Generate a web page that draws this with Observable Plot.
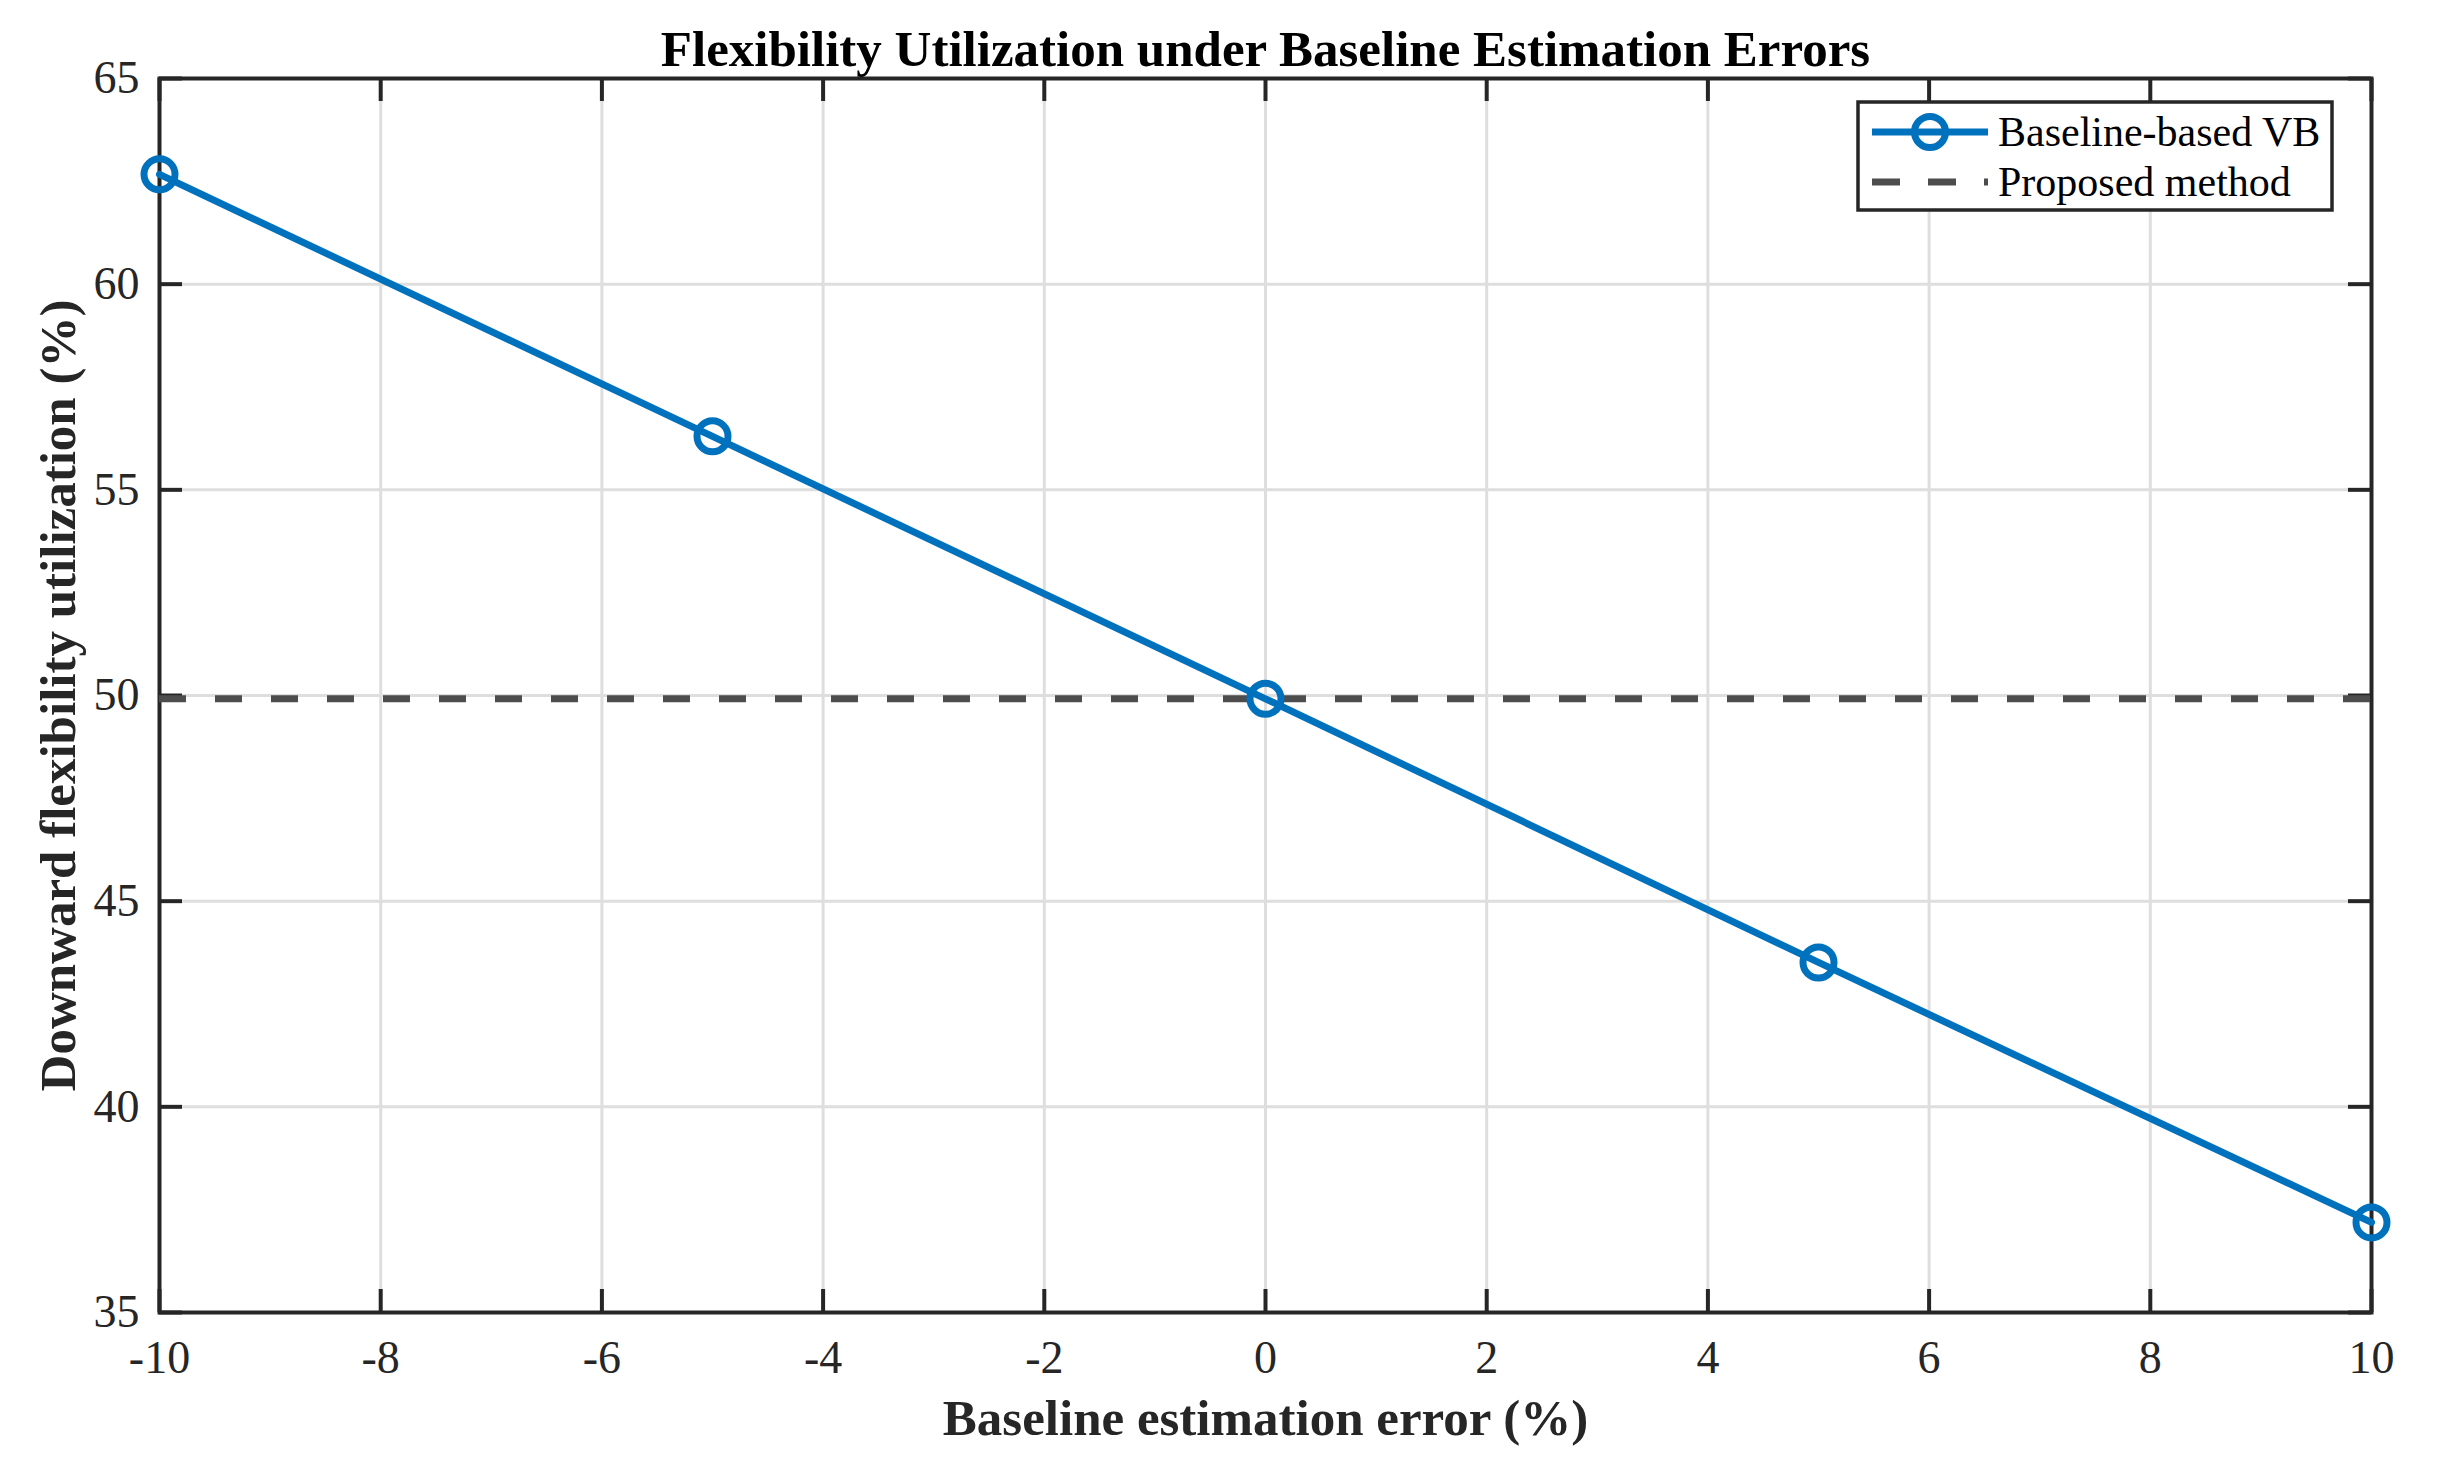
<!DOCTYPE html>
<html>
<head>
<meta charset="utf-8">
<script src="https://cdn.jsdelivr.net/npm/d3@7"></script>
<script src="https://cdn.jsdelivr.net/npm/@observablehq/plot@0.6"></script>
<style>
  html, body { margin: 0; padding: 0; background: #fff; }
  #chart { width: 2441px; height: 1468px; }
</style>
</head>
<body>
<div id="chart"></div>
<script>
// ---- data ----
const errors = [-10, -5, 0, 5, 10];                       // baseline estimation error (%)
const baselineVB = [62.67, 56.30, 49.92, 43.51, 37.19];   // Baseline-based VB (%)
const proposedValue = 49.92;                              // Proposed method (%)
const xTicks = [-10, -8, -6, -4, -2, 0, 2, 4, 6, 8, 10];
const yTicks = [35, 40, 45, 50, 55, 60, 65];
const titleText = "Flexibility Utilization under Baseline Estimation Errors";
const xLabel = "Baseline estimation error (%)";
const yLabel = "Downward flexibility utilization (%)";
const seriesNames = ["Baseline-based VB", "Proposed method"];

const rows = errors.map((e, i) => ({x: e, y: baselineVB[i]}));

const W = 2441, H = 1468;
const mL = 159, mR = 70, mT = 78, mB = 156;
const fw = W - mL - mR, fh = H - mT - mB;
const tickLen = 23;
const blue = "#0072BD", dark = "#262626", dashGray = "#4d4d4d";
const font = "'Liberation Serif', 'Times New Roman', serif";

const svg = Plot.plot({
  width: W, height: H,
  marginLeft: mL, marginRight: mR, marginTop: mT, marginBottom: mB,
  style: {fontFamily: font, background: "#fff", color: dark, overflow: "visible"},
  x: {domain: [-10, 10]},
  y: {domain: [35, 65]},
  marks: [
    Plot.gridX(xTicks, {stroke: "#dedede", strokeOpacity: 1, strokeWidth: 3}),
    Plot.gridY(yTicks, {stroke: "#dedede", strokeOpacity: 1, strokeWidth: 3}),
    Plot.frame({stroke: dark, strokeWidth: 4}),
    Plot.tickX(xTicks, {x: d => d, stroke: dark, strokeWidth: 4, insetTop: fh - tickLen}),
    Plot.tickX(xTicks, {x: d => d, stroke: dark, strokeWidth: 4, insetBottom: fh - tickLen}),
    Plot.tickY(yTicks, {y: d => d, stroke: dark, strokeWidth: 4, insetRight: fw - tickLen}),
    Plot.tickY(yTicks, {y: d => d, stroke: dark, strokeWidth: 4, insetLeft: fw - tickLen}),
    Plot.axisX(xTicks, {anchor: "bottom", tickSize: 0, tickPadding: 28, fontSize: 46,
      tickFormat: d => String(d), label: null, fill: dark}),
    Plot.axisY(yTicks, {anchor: "left", tickSize: 0, tickPadding: 20, fontSize: 46,
      tickFormat: d => String(d), label: null, fill: dark}),
    Plot.ruleY([proposedValue], {stroke: dashGray, strokeWidth: 7, strokeDasharray: "27,29"}),
    Plot.line(rows, {x: "x", y: "y", stroke: blue, strokeWidth: 7}),
    Plot.dot(rows, {x: "x", y: "y", r: 15.5, stroke: blue, strokeWidth: 7, fill: "none"}),
    Plot.text([titleText], {frameAnchor: "top", lineAnchor: "bottom", dy: -13,
      fontSize: 51, fontWeight: "bold", fill: "#000"}),
    Plot.text([xLabel], {frameAnchor: "bottom", lineAnchor: "bottom", dy: 122,
      fontSize: 51, fontWeight: "bold", fill: dark}),
    Plot.text([yLabel], {frameAnchor: "left", rotate: -90, lineAnchor: "top", textAnchor: "middle",
      dx: -121, fontSize: 51, fontWeight: "bold", fill: dark})
  ]
});

// ---- legend (MATLAB-style box, top-right inside the axes) ----
const lg = d3.select(svg).append("g").attr("font-family", font).attr("text-anchor", "start");
const lx = 1858, ly = 102, lw = 474, lh = 108;
lg.append("rect").attr("x", lx).attr("y", ly).attr("width", lw).attr("height", lh)
  .attr("fill", "#fff").attr("stroke", dark).attr("stroke-width", 3.5);
const rowY = [132, 182];
const sx0 = 1872, sx1 = 1988, tx = 1998;
// row 1
lg.append("line").attr("x1", sx0).attr("x2", sx1).attr("y1", rowY[0]).attr("y2", rowY[0])
  .attr("stroke", blue).attr("stroke-width", 7);
lg.append("circle").attr("cx", (sx0 + sx1) / 2).attr("cy", rowY[0]).attr("r", 15.5)
  .attr("fill", "none").attr("stroke", blue).attr("stroke-width", 7);
// row 2
lg.append("line").attr("x1", sx0).attr("x2", sx1).attr("y1", rowY[1]).attr("y2", rowY[1])
  .attr("stroke", dashGray).attr("stroke-width", 7).attr("stroke-dasharray", "28,28");
seriesNames.forEach((name, i) => {
  lg.append("text").attr("x", tx).attr("y", rowY[i]).attr("dy", "0.34em")
    .attr("text-anchor", "start")
    .attr("font-size", 42).attr("fill", "#000").text(name);
});

document.getElementById("chart").appendChild(svg);
</script>
</body>
</html>
